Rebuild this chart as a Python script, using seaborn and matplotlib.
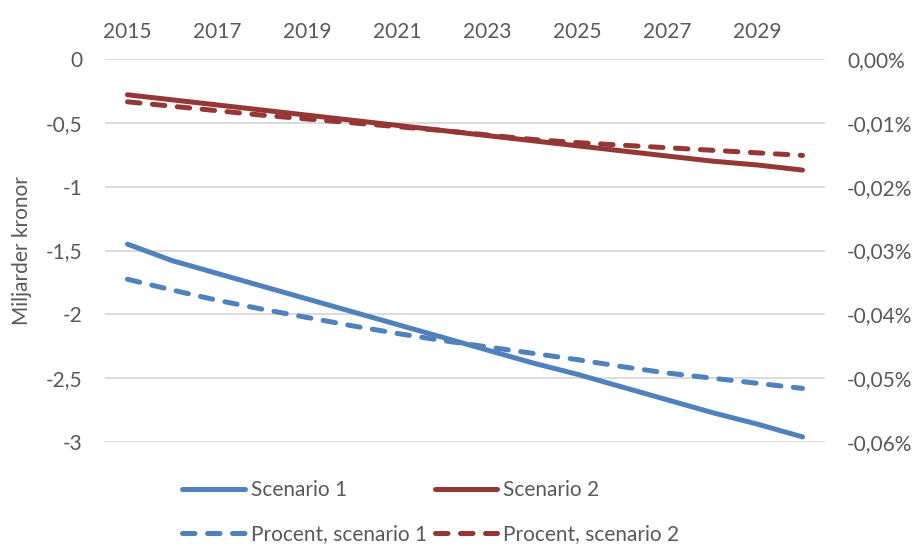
import pandas as pd
import seaborn as sns
import matplotlib.pyplot as plt
from matplotlib.ticker import FuncFormatter

# Data
years = list(range(2015, 2031))
scenario_1 = [-1.45, -1.58, -1.68, -1.78, -1.88, -1.98, -2.08, -2.18,
              -2.28, -2.38, -2.47, -2.57, -2.67, -2.77, -2.86, -2.96]
scenario_2 = [-0.28, -0.32, -0.36, -0.40, -0.44, -0.48, -0.52, -0.56,
              -0.60, -0.64, -0.68, -0.72, -0.76, -0.80, -0.83, -0.87]
# percent of GDP (right axis), in percent units
procent_1 = [-0.0345, -0.0362, -0.0378, -0.0392, -0.0405, -0.0418, -0.0430, -0.0441,
             -0.0451, -0.0461, -0.0471, -0.0482, -0.0492, -0.0500, -0.0508, -0.0516]
procent_2 = [-0.0067, -0.0074, -0.0081, -0.0088, -0.0094, -0.0100, -0.0106, -0.0112,
             -0.0119, -0.0126, -0.0131, -0.0135, -0.0139, -0.0143, -0.0147, -0.0151]

df = pd.DataFrame({"year": years, "s1": scenario_1, "s2": scenario_2,
                   "p1": procent_1, "p2": procent_2})

blue = "#4F81BD"
red = "#953735"
grey = "#595959"

sns.set_style("white")
plt.rcParams['font.family'] = ['Lato', 'DejaVu Sans']

fig = plt.figure(figsize=(9.17, 5.48), dpi=100)
ax = fig.add_axes([0.1145, 0.1934, 0.7852, 0.6989])
ax2 = ax.twinx()

lw = 3.6
sns.lineplot(data=df, x="year", y="s1", ax=ax, color=blue, lw=lw,
             solid_capstyle="round", label="Scenario 1", legend=False)
sns.lineplot(data=df, x="year", y="s2", ax=ax, color=red, lw=lw,
             solid_capstyle="round", label="Scenario 2", legend=False)
sns.lineplot(data=df, x="year", y="p1", ax=ax2, color=blue, lw=lw,
             dashes=False, label="Procent, scenario 1", legend=False)
sns.lineplot(data=df, x="year", y="p2", ax=ax2, color=red, lw=lw,
             dashes=False, label="Procent, scenario 2", legend=False)
for ln in ax2.get_lines():
    ln.set_dashes((2.5, 2.5))
    ln.set_dash_capstyle("round")

ax.set_xlim(2014.5, 2030.5)
ax.set_ylim(-3, 0)
ax2.set_ylim(-0.06, 0)
ax.set_yticks([0, -0.5, -1, -1.5, -2, -2.5, -3])
ax.set_yticklabels(["0", "-0,5", "-1", "-1,5", "-2", "-2,5", "-3"])
ax2.set_yticks([0, -0.01, -0.02, -0.03, -0.04, -0.05, -0.06])
ax2.yaxis.set_major_formatter(FuncFormatter(lambda v, p: f"{v:.2f}%".replace(".", ",")))

ax.set_xticks(list(range(2015, 2030, 2)))
ax.xaxis.tick_top()
ax.set_xlabel("")
ax.set_ylabel("Miljarder kronor", fontsize=15, color=grey, labelpad=10)
ax2.set_ylabel("")

ax.grid(axis="y", color="#D9D9D9", lw=1.3)
ax.set_axisbelow(True)
for a in (ax, ax2):
    for s in a.spines.values():
        s.set_visible(False)
    a.tick_params(length=0, labelsize=15, colors=grey)
ax.tick_params(axis="x", pad=12)
ax.tick_params(axis="y", pad=16)
ax2.tick_params(axis="y", pad=16)

handles = [ax.get_lines()[0], ax2.get_lines()[0], ax.get_lines()[1], ax2.get_lines()[1]]
labels = ["Scenario 1", "Procent, scenario 1", "Scenario 2", "Procent, scenario 2"]
leg = fig.legend(handles, labels, loc="center", bbox_to_anchor=(0.47, 0.066), ncol=2,
                 frameon=False, fontsize=15, handlelength=3.0, handletextpad=0.3,
                 columnspacing=0.35, labelspacing=1.15)
for t in leg.get_texts():
    t.set_color(grey)

fig.savefig("out.png", dpi=100)
